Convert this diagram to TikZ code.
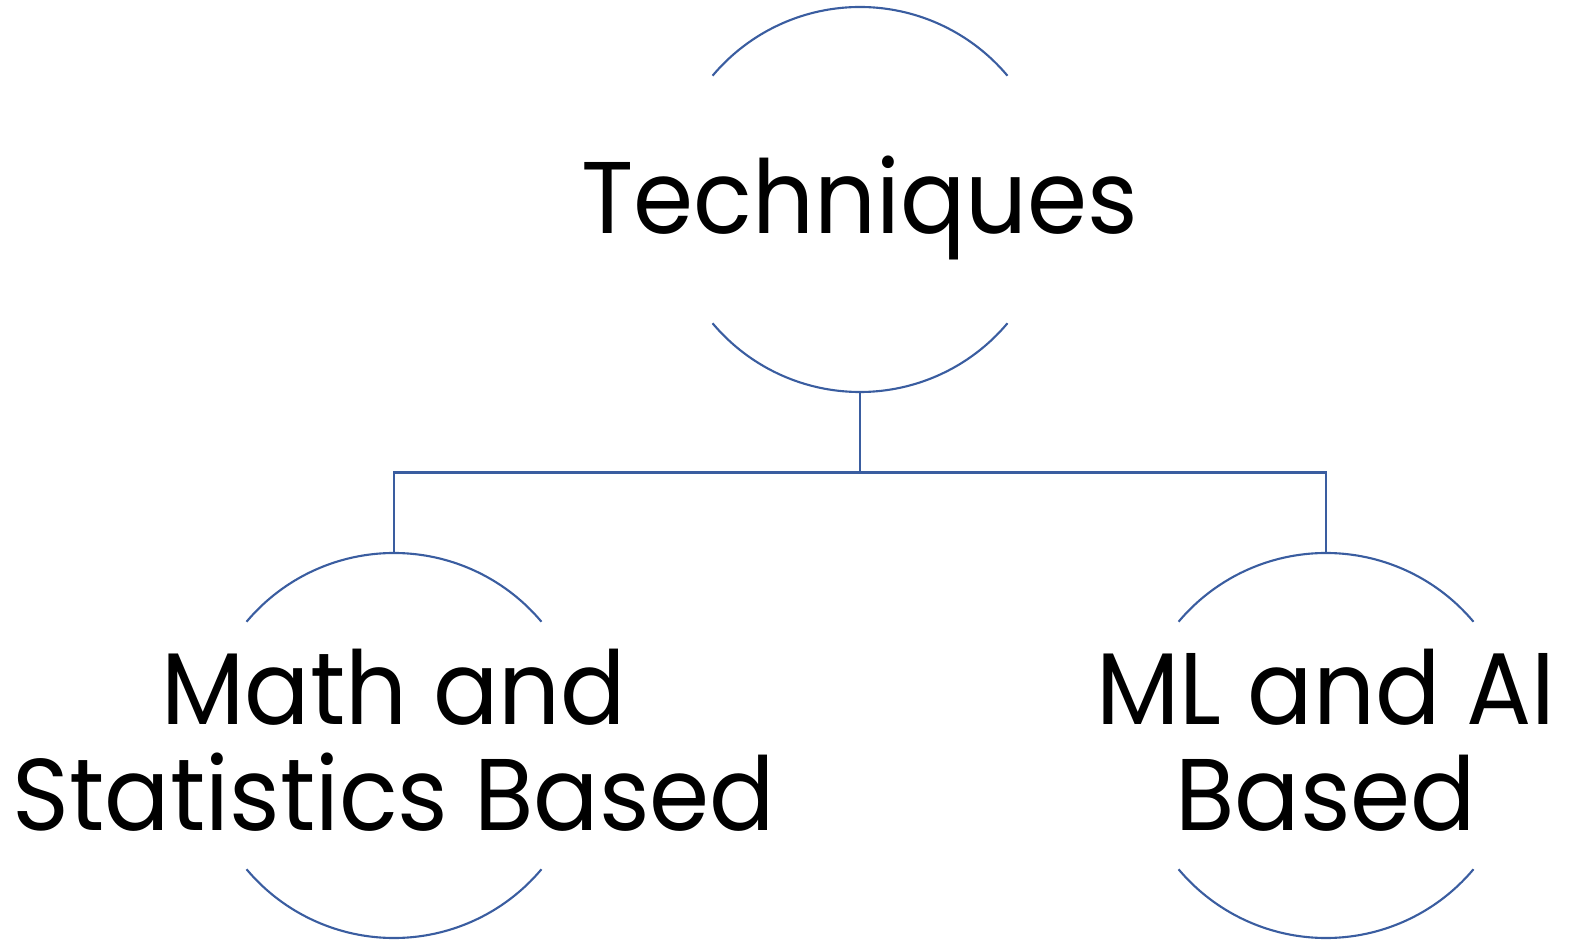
\documentclass[tikz,border=0pt]{standalone}
\usepackage{fontspec}
\setmainfont{Poppins}[FakeStretch=0.95]
\usepackage{xcolor}
\usepackage{tikz}
\usetikzlibrary{positioning}
\definecolor{ringblue}{HTML}{3A5DA0}
\tikzset{
  topic/.style={
    inner sep=0pt, align=center, anchor=base,
    font=\fontsize{29}{30}\selectfont
  },
  ring/.style={draw=ringblue, line width=0.6pt},
  link/.style={draw=ringblue, line width=0.6pt},
}

\begin{document}
\begin{tikzpicture}
  \useasboundingbox (0,0) rectangle (15.71,9.41);

  % Ring centres
  \coordinate (tech-c) at (8.60,7.415);
  \coordinate (math-c) at (3.94,1.955);
  \coordinate (ml-c) at (13.26,1.955);

  % Labels (base = last line)
  \node[topic] (tech) at ([yshift=-3.45mm]tech-c) {Techniques};
  \node[topic] (math) at ([yshift=-8.45mm]math-c) {Math and\\Statistics Based};
  \node[topic] (ml) at ([yshift=-8.45mm]ml-c) {ML and AI\\Based};

  % Open rings (upper and lower arcs)
  \foreach \c in {tech-c,math-c,ml-c} {
    \draw[ring] ([shift={(40:1.925)}]\c) arc[start angle=40, end angle=140, radius=1.925];
    \draw[ring] ([shift={(220:1.925)}]\c) arc[start angle=220, end angle=320, radius=1.925];
  }

  % Ring tops and bottoms
  \coordinate (tech-b) at ([yshift=-1.925cm]tech-c);
  \coordinate (math-t) at ([yshift=1.925cm]math-c);
  \coordinate (ml-t) at ([yshift=1.925cm]ml-c);

  % Connectors
  \draw[link] (tech-b) -- ++(0,-0.805) -| (math-t);
  \draw[link] (tech-b) -- ++(0,-0.805) -| (ml-t);
\end{tikzpicture}
\end{document}
